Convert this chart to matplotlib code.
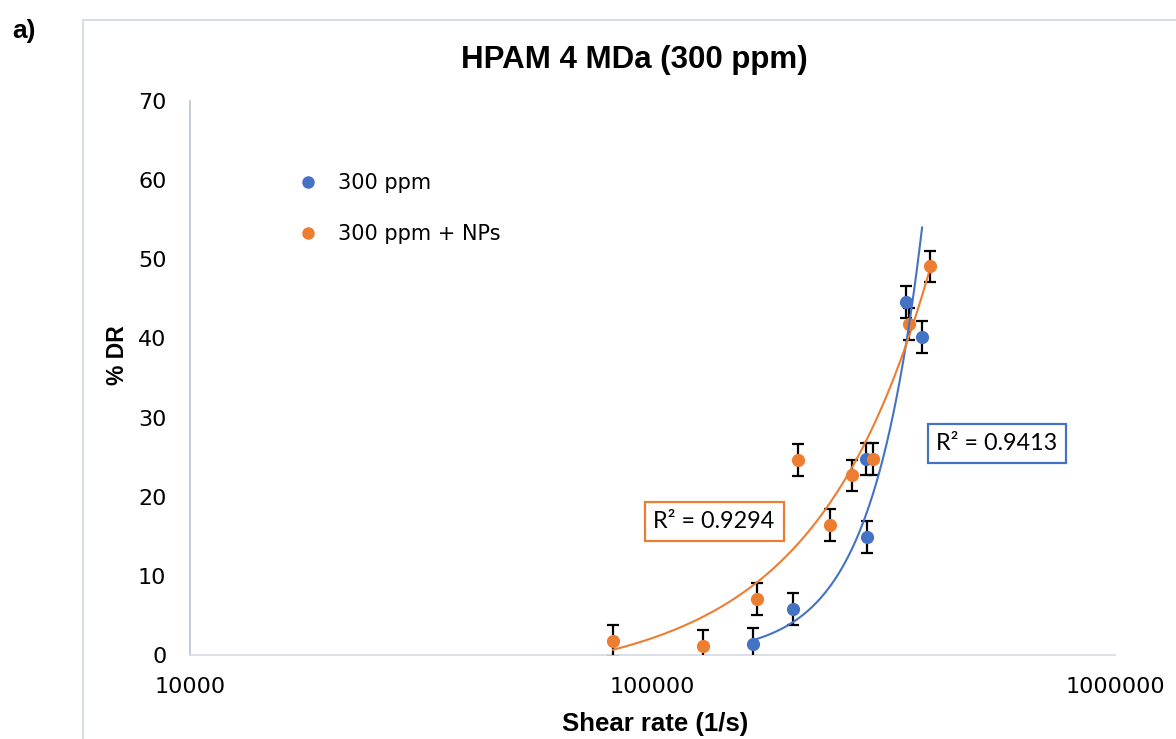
import numpy as np
import matplotlib
matplotlib.use("Agg")
from matplotlib import pyplot as plt
from matplotlib.lines import Line2D
from matplotlib.patches import Rectangle
from matplotlib.ticker import FixedLocator, NullLocator

plt.rcParams['font.family'] = ['Liberation Sans', 'DejaVu Sans']

# data
blue_x = [164800, 201200, 288800, 291000, 353300, 382700]
blue_y = [1.35, 5.85, 24.8, 14.9, 44.6, 40.2]
blue_err = [2.0, 2.0, 2.0, 2.0, 2.0, 2.0]

orange_x = [82200, 128300, 168300, 206700, 241600, 269700, 300000, 358600, 397500]
orange_y = [1.8, 1.18, 7.04, 24.6, 16.4, 22.7, 24.8, 41.8, 49.1]
orange_err = [2.0, 2.0, 2.0, 2.0, 2.0, 2.0, 2.0, 2.0, 2.0]

labels = ['300 ppm', '300 ppm + NPs']
r2_labels = ['R² = 0.9413', 'R² = 0.9294']
x_ticks = [10000, 100000, 1000000]
y_ticks = [0, 10, 20, 30, 40, 50, 60, 70]

BLUE = '#4472C4'
ORANGE = '#ED7D31'
WIDE = ['DejaVu Sans']

fig = plt.figure(figsize=(11.76, 7.39), dpi=100)
W, H = 1176, 739

# outer chart frame
fig.patches.append(Rectangle((83 / W, -0.1), 1.2, 1.1 - 20 / H, transform=fig.transFigure,
                             fill=False, edgecolor='#d9dde4', linewidth=1.5))

ax = fig.add_axes([190 / W, 1 - 655 / H, 925 / W, 554 / H])

# error bars + markers
ax.errorbar(blue_x, blue_y, yerr=blue_err, fmt='o', color=BLUE, ms=8.5,
            ecolor='black', elinewidth=1.6, capsize=4.5, capthick=1.6, zorder=3)
ax.errorbar(orange_x, orange_y, yerr=orange_err, fmt='o', color=ORANGE, ms=8.5,
            ecolor='black', elinewidth=1.6, capsize=4.5, capthick=1.6, zorder=3)

# trendlines: power fit for blue, 2nd order polynomial for orange
bx = np.array(blue_x, float)
by = np.array(blue_y, float)
pb = np.polyfit(np.log(bx), np.log(by), 1)
xb = np.geomspace(bx.min(), bx.max(), 200)
ax.plot(xb, np.exp(np.polyval(pb, np.log(xb))), color=BLUE, lw=1.5, zorder=4)

ox = np.array(orange_x, float)
oy = np.array(orange_y, float)
po = np.polyfit(ox, oy, 2)
xo = np.geomspace(ox.min(), ox.max(), 200)
ax.plot(xo, np.polyval(po, xo), color=ORANGE, lw=1.5, zorder=4)

ax.set_xscale('log')
ax.set_xlim(1e4, 1e6)
ax.set_ylim(0, 70)
ax.xaxis.set_major_locator(FixedLocator(x_ticks))
ax.xaxis.set_minor_locator(NullLocator())
ax.set_xticklabels([str(t) for t in x_ticks])
ax.set_yticks(y_ticks)
ax.tick_params(axis='both', length=0, labelsize=16, pad=17)
ax.tick_params(axis='x', pad=16)
for lab in ax.get_xticklabels() + ax.get_yticklabels():
    lab.set_family(WIDE)

for s in ['top', 'right']:
    ax.spines[s].set_visible(False)
ax.spines['left'].set_color('#bfc7d5')
ax.spines['bottom'].set_color('#d9dde4')
ax.spines['left'].set_linewidth(1.3)
ax.spines['bottom'].set_linewidth(1.3)

# R² boxes
ax.text(0.8724, 0.3818, r2_labels[0], transform=ax.transAxes, ha='center', va='center',
        fontsize=16.8, family=['Lato', 'DejaVu Sans'],
        bbox=dict(boxstyle='square,pad=0.38', fc='white', ec=BLUE, lw=1.6))
ax.text(0.5665, 0.241, r2_labels[1], transform=ax.transAxes, ha='center', va='center',
        fontsize=16.8, family=['Lato', 'DejaVu Sans'],
        bbox=dict(boxstyle='square,pad=0.38', fc='white', ec=ORANGE, lw=1.6))

handles = [Line2D([], [], ls='', marker='o', color=c, ms=8) for c in (BLUE, ORANGE)]
ax.legend(handles, labels, loc='upper left', bbox_to_anchor=(0.105, 0.889),
          frameon=False, prop={'family': WIDE, 'size': 15}, handlelength=1.0,
          handletextpad=0.95, borderpad=0, labelspacing=1.49)

fig.text(634 / W, 1 - 68 / H, 'HPAM 4 MDa (300 ppm)', ha='center', va='baseline',
         fontsize=22.5, fontweight='bold')
fig.text(118 / W, 1 - 355 / H, '% DR', ha='center', va='center', rotation=90,
         fontsize=16.5, fontweight='bold')
fig.text(655 / W, 1 - 731 / H, 'Shear rate (1/s)', ha='center', va='baseline',
         fontsize=18.5, fontweight='bold')
fig.text(24 / W, 1 - 31 / H, 'a)', ha='center', va='center', fontsize=19, fontweight='bold')

fig.savefig('out.png', dpi=100)
